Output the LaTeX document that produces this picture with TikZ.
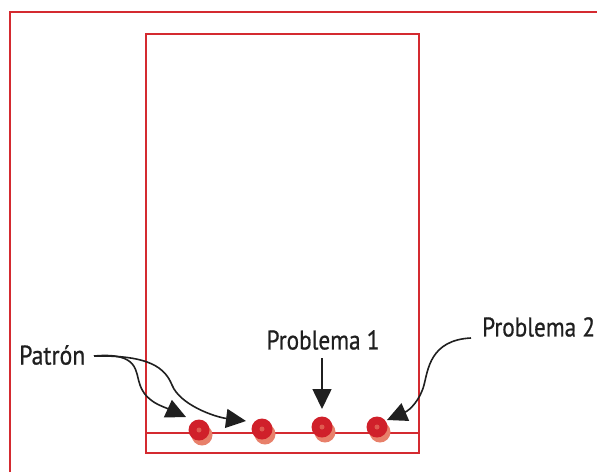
\documentclass[tikz,border=0pt]{standalone}
\usepackage{fontspec}
\setmainfont{PT Sans}
\newfontfamily\lblfont[FakeBold=0.8]{PT Sans}
\usetikzlibrary{arrows.meta,calc}
\definecolor{fr}{HTML}{D42A30}
\definecolor{dotred}{HTML}{D0202A}
\definecolor{dotsh}{HTML}{E8806A}
\definecolor{dotin}{HTML}{E05A50}
\tikzset{
  frame/.style={draw=fr, line width=2pt},
  thin/.style={draw=fr, line width=1.3pt},
  lbl/.style={font=\lblfont\fontsize{27}{30}\selectfont, text=black!88, inner sep=0pt},
  arr/.style={draw=black!88, line width=1.6pt, -{Triangle[length=20pt,width=19pt]}},
}
\newcommand{\pin}[2]{%
  \fill[dotsh] (#1+3,#2+5) circle (10.5);
  \fill[dotred] (#1,#2) circle (10.5);
  \fill[dotin] (#1,#2) circle (2.5);
}
\begin{document}
\begin{tikzpicture}[x=1pt,y=-1pt]
\useasboundingbox (0,0) rectangle (597,472);
\draw[frame] (10,472) -- (10,12) -- (597,12);
\draw[thin] (146,34) rectangle (419,453);
\draw[thin] (146,433) -- (419,433);
\pin{199}{430}
\pin{262}{429}
\pin{322}{427}
\pin{377}{427}
\coordinate (t1) at (186,417);
\coordinate (t2) at (246,421);
\coordinate (t3) at (322,409);
\coordinate (t4) at (387,420);
\node[lbl, anchor=west] (patron) at (19,355) {\scalebox{0.88}[1]{Patrón}};
\node[lbl] (p1) at (323,340) {\scalebox{0.86}[1]{Problema 1}};
\node[lbl, anchor=west] (p2) at (482,327) {\scalebox{0.86}[1]{Problema 2}};
\coordinate (ps) at (94,356);
\coordinate (p1s) at (322,358);
\coordinate (p2s) at (471,338);
\draw[arr] (ps) .. controls (140,352) and (135,372) .. (140,385) .. controls (146,402) and (162,406) .. (t1);
\draw[arr] (ps) .. controls (150,355) and (165,368) .. (172,385) .. controls (180,405) and (215,417) .. (t2);
\draw[arr] (p1s) -- (t3);
\draw[arr] (p2s) .. controls (430,340) and (428,370) .. (424,385) .. controls (420,400) and (410,410) .. (t4);
\end{tikzpicture}
\end{document}
